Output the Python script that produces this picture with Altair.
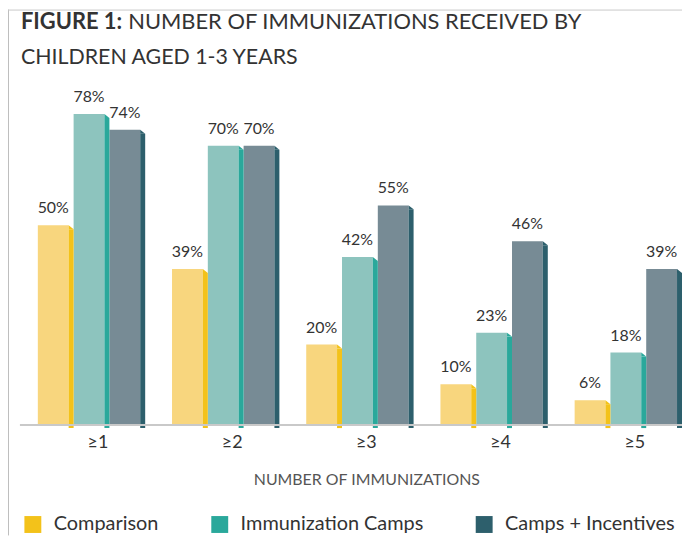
import altair as alt
import pandas as pd

groups = ["≥1", "≥2", "≥3", "≥4", "≥5"]
series = ["Comparison", "Immunization Camps", "Camps + Incentives"]
comparison = [50, 39, 20, 10, 6]
camps = [78, 70, 42, 23, 18]
incentives = [74, 70, 55, 46, 39]

front_colors = ["#F8D67E", "#8DC4BE", "#778B95"]
side_colors = ["#F3C21A", "#2AA89B", "#2D5F6C"]

title_bold = "FIGURE 1:"
title_rest = "NUMBER OF IMMUNIZATIONS RECEIVED BY"
title_line2 = "CHILDREN AGED 1-3 YEARS"
x_title = "NUMBER OF IMMUNIZATIONS"

FONT = "Lato"

rows = []
for i, g in enumerate(groups):
    for s, vals in zip(series, [comparison, camps, incentives]):
        rows.append({"group": g, "series": s, "fk": s, "sk": s + " |side",
                     "value": vals[i], "label": f"{vals[i]}%"})
df = pd.DataFrame(rows)
one = pd.DataFrame({"a": [0]})

offset_domain = []
for s in series:
    offset_domain += [s, s + " |side"]

x = alt.X(
    "group:N", sort=groups,
    scale=alt.Scale(range=[6.5, 654.5], paddingInner=0.2, paddingOuter=0),
    axis=alt.Axis(title=x_title, labelAngle=0, ticks=False, domain=False, grid=False,
                  labelFontSize=18, labelColor="#333333", labelPadding=10, labelFont=FONT,
                  titleFontSize=16, titleColor="#555555", titleFontWeight="normal",
                  titlePadding=20, titleFont=FONT),
)
off_scale = alt.Scale(domain=offset_domain, paddingInner=0, paddingOuter=0)
xo_front = alt.XOffset("fk:N", scale=off_scale)
xo_side = alt.XOffset("sk:N", scale=off_scale)
y = alt.Y("value:Q", scale=alt.Scale(domain=[0, 80]), axis=None)

base = alt.Chart(df)

front = base.mark_bar(width=31).encode(
    x=x, xOffset=xo_front, y=y,
    color=alt.Color("series:N", sort=series,
                    scale=alt.Scale(domain=series, range=front_colors), legend=None),
)

side = base.mark_bar(width=5, yOffset=4).encode(
    x=x, xOffset=xo_side, y=y,
    color=alt.Color("series:N", sort=series,
                    scale=alt.Scale(domain=series, range=side_colors),
                    legend=alt.Legend(title=None, orient="none", legendX=-15, legendY=411,
                                      direction="horizontal", symbolType="square",
                                      symbolSize=289, symbolStrokeWidth=0, symbolOpacity=1,
                                      labelFontSize=20, labelColor="#333333", labelOffset=11,
                                      columnPadding=51, labelLimit=400, labelFont=FONT)),
)

corner = base.mark_point(shape="M-1,-1L1,0.6L-1,0.6Z", size=25, filled=True, opacity=1,
                         strokeWidth=0, yOffset=2.5).encode(
    x=x, xOffset=xo_side, y=y,
    color=alt.Color("series:N", sort=series,
                    scale=alt.Scale(domain=series, range=side_colors), legend=None),
)

labels = base.mark_text(dy=-12, baseline="alphabetic", fontSize=16,
                        color="#333333", font=FONT).encode(
    x=x, xOffset=xo_front, y=y, text="label:N",
)

baseline = alt.Chart(one).mark_rule(color="#C9C9C9", strokeWidth=2).encode(
    x=alt.value(-18), x2=alt.value(652), y=alt.value(321))

left_border = alt.Chart(one).mark_rule(color="#BDBDBD", strokeWidth=1).encode(
    x=alt.value(-29.5), y=alt.value(-97), y2=alt.value(432))
top_border = alt.Chart(one).mark_rule(color="#C9C9C9", strokeWidth=1).encode(
    x=alt.value(-30), x2=alt.value(648), y=alt.value(-96.5))

t1 = alt.Chart(one).mark_text(text=title_bold, fontWeight="bold", fontSize=22, align="left",
                              baseline="alphabetic", color="#333333", font=FONT).encode(
    x=alt.value(-17), y=alt.value(-77))
t2 = alt.Chart(one).mark_text(text=title_rest, fontSize=22, align="left",
                              baseline="alphabetic", color="#333333", font=FONT).encode(
    x=alt.value(91), y=alt.value(-77))
t3 = alt.Chart(one).mark_text(text=title_line2, fontSize=21.5, align="left",
                              baseline="alphabetic", color="#333333", font=FONT).encode(
    x=alt.value(-17), y=alt.value(-42))

chart = alt.layer(
    left_border, top_border, front, side, corner, labels, baseline, t1, t2, t3
).resolve_scale(color="independent").properties(
    width=648, height=320,
    padding={"left": 30, "top": 97, "right": 0, "bottom": 112},
    autosize="none",
).configure(font=FONT).configure_view(stroke=None)

chart.save("out.html", embed_options={"renderer": "svg", "actions": False})
